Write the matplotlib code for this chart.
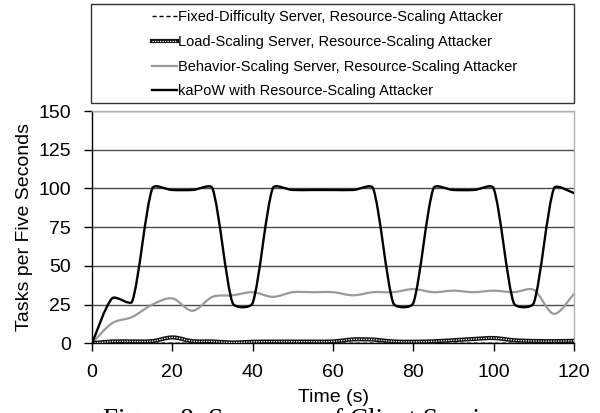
import matplotlib
matplotlib.use("Agg")
import matplotlib.pyplot as plt
import numpy as np
from matplotlib.path import Path
from matplotlib.patches import PathPatch, Rectangle
from matplotlib.lines import Line2D

plt.rcParams['font.family'] = ['Liberation Sans', 'DejaVu Sans']

# samples every five seconds
time = [0, 5, 10, 15, 20, 25, 30, 35, 40, 45, 50, 55, 60,
        65, 70, 75, 80, 85, 90, 95, 100, 105, 110, 115, 120]

fixed = [0, 0, 0, 0, 0, 0, 0, 0, 0, 0, 0, 0, 0,
         0, 0, 0, 0, 0, 0, 0, 0, 0, 0, 0, 0]
load = [0, 1.2, 1.2, 1.4, 3.8, 1.4, 1.2, 0.5, 1.0, 1.1, 1.1, 1.1, 1.2,
        2.5, 2.4, 1.2, 1.0, 1.3, 2.0, 2.8, 3.4, 2.0, 1.5, 1.4, 1.6]
behavior = [0, 13, 17, 25, 29, 21, 30, 31, 33, 30, 33, 33, 33,
            31, 33, 33, 35, 33, 34, 33, 34, 33, 34.5, 19, 32]
kapow = [0, 29, 27, 100, 99, 99, 100, 26, 26, 100, 99, 99, 99,
         99, 100, 26, 26, 100, 99, 99, 100, 26, 26, 100, 97]

labels = ["Fixed-Difficulty Server, Resource-Scaling Attacker",
          "Load-Scaling Server, Resource-Scaling Attacker",
          "Behavior-Scaling Server, Resource-Scaling Attacker",
          "kaPoW with Resource-Scaling Attacker"]

W, H = 600, 413
fig = plt.figure(figsize=(6, 4.13), dpi=100)
ax = fig.add_axes([92 / W, 1 - 343.3 / H, (574 - 92) / W, (343.3 - 111) / H])
ax.set_xlim(0, 120)
ax.set_ylim(0, 150)


def smooth_path(ax, xs, ys):
    # excel-like smoothed line, bezier segments built in screen space
    pts = ax.transData.transform(np.column_stack([xs, ys]))
    n = len(pts)
    verts = [pts[0]]
    codes = [Path.MOVETO]
    for i in range(n - 1):
        p0 = pts[max(i - 1, 0)]
        p1 = pts[i]
        p2 = pts[i + 1]
        p3 = pts[min(i + 2, n - 1)]
        d01 = np.hypot(*(p1 - p0))
        d12 = np.hypot(*(p2 - p1))
        d23 = np.hypot(*(p3 - p2))
        f1 = min(1.0, 2 * d12 / (d01 + d12)) if d01 + d12 > 0 else 0
        f2 = min(1.0, 2 * d12 / (d12 + d23)) if d12 + d23 > 0 else 0
        c1 = p1 + (p2 - p0) / 6 * f1
        c2 = p2 - (p3 - p1) / 6 * f2
        verts += [c1, c2, p2]
        codes += [Path.CURVE4] * 3
    return Path(ax.transData.inverted().transform(np.array(verts)), codes)


def draw(xs, ys, **kw):
    ax.add_patch(PathPatch(smooth_path(ax, xs, ys), fill=False, **kw))


draw(time, fixed, edgecolor='black', lw=1.0, linestyle=(0, (3, 2)), zorder=3)
draw(time, load, edgecolor='#111111', lw=3.0, zorder=4)
draw(time, load, edgecolor='white', lw=0.9, linestyle=(0, (1, 1)), zorder=5)
draw(time, behavior, edgecolor='#9a9a9a', lw=1.6, zorder=3)
draw(time, kapow, edgecolor='black', lw=1.7, capstyle='round', zorder=6)

ax.set_xticks([0, 20, 40, 60, 80, 100, 120])
ax.set_yticks([0, 25, 50, 75, 100, 125, 150])
ax.yaxis.grid(True, color='#4a4a4a', lw=1.0)
ax.set_axisbelow(True)
ax.tick_params(direction='out', length=6, width=1, color='black',
               labelsize=14, pad=9)
for s in ['left', 'bottom']:
    ax.spines[s].set_color('black')
    ax.spines[s].set_linewidth(1.0)
for s in ['top', 'right']:
    ax.spines[s].set_color('#b0b0b0')
    ax.spines[s].set_linewidth(1.0)

ax.set_xlabel("Time (s)", fontsize=14, labelpad=6)
ax.set_ylabel("Tasks per Five Seconds", fontsize=14, labelpad=4)

# legend box above plot
fig.add_artist(Rectangle((91 / W, 1 - 103 / H), (574 - 91) / W, (103 - 4) / H,
                         transform=fig.transFigure, fill=False,
                         edgecolor='#333333', lw=1.0))
handles = [Line2D([], [], color='black', lw=1.0, linestyle=(0, (3, 2))),
           (Line2D([], [], color='#111111', lw=3.0),
            Line2D([], [], color='white', lw=0.9, linestyle=(0, (1, 1)))),
           Line2D([], [], color='#9a9a9a', lw=1.6),
           Line2D([], [], color='black', lw=1.7)]
fig.legend(handles, labels, loc='upper left', bbox_to_anchor=(152 / W, 1 - 10.5 / H),
           frameon=False, fontsize=10.5, handlelength=1.7, handletextpad=0.1,
           labelspacing=0.73, borderpad=0, borderaxespad=0)

fig.text(103 / W, 1 - 427 / H, "Figure 8: Summary of Client Service",
         family=['Liberation Serif', 'DejaVu Serif'], fontsize=19.5,
         ha='left', va='baseline')

fig.savefig("out.png", dpi=100)
